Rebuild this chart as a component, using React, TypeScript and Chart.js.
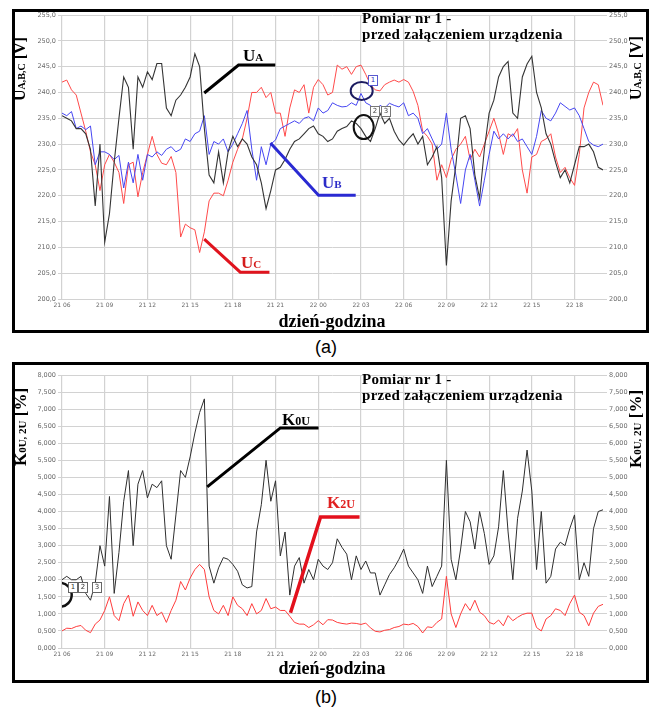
import React, { useEffect, useRef } from 'react';
import { Chart, registerables } from 'chart.js';

Chart.register(...registerables);

// ---------- data ----------
// x-axis tick labels (day hour), one every 3 hours starting at 21 06:00
const xTickLabels = ['21 06', '21 09', '21 12', '21 15', '21 18', '21 21', '22 00', '22 03', '22 06', '22 09', '22 12', '22 15', '22 18'];
// samples every 20 minutes, starting at 21 06:00 (x value = hours since start)
const SAMPLE_STEP_H = 1 / 3;

// Panel (a) — phase voltages [V]
const uA = [
  235.5, 235, 234.5, 233, 233, 232, 229, 218, 230, 211,
  216.5, 226.5, 235, 243, 241, 229, 243, 241, 244, 242.5,
  245.6, 245.6, 237, 235.5, 238.5, 239.5, 241, 243, 247.5, 245,
  233, 224, 222.5, 228.5, 222.5, 228.5, 231.5, 229.5, 231, 230,
  227.5, 226, 222.5, 217.5, 221, 225, 225.5, 227, 229, 230.5,
  231, 232, 233, 233.5, 232, 231.5, 230.5, 231, 232.5, 233,
  233.4, 234.5, 234, 233, 231.5, 230.5, 233, 236, 234, 235,
  232.5, 230.8, 229.8, 231, 232, 230, 231.5, 226, 227.5, 229.5,
  223.5, 206.5, 219, 226, 235, 235.5, 233, 224, 219.5, 229,
  236, 238.5, 243, 245, 246, 236, 235, 243, 245.5, 247,
  240, 237, 232, 230, 226.5, 223.5, 225, 222.5, 226, 229.5,
  229.5, 230, 228.5, 225.5, 225,
];
const uB = [
  236, 235.5, 236.3, 233, 233.5, 232.8, 233.5, 226, 228.5, 228.5,
  228, 227, 227.8, 221.5, 226.5, 222.5, 228, 223, 228, 227.5,
  228.5, 227.8, 229, 229.5, 228.5, 229, 231, 230.5, 232, 232.5,
  235.5, 228, 230.5, 230, 231, 228.5, 230, 232, 234, 236.5,
  229, 223, 229.5, 226, 230, 230.8, 233, 233.5, 234, 234.5,
  234, 235, 235.3, 234.5, 237, 236, 236.5, 238, 237.5, 237.2,
  237.3, 238, 237.5, 239.8, 238, 237.5, 236.5, 237.5, 237, 237.9,
  237.5, 237.2, 238, 235.5, 236, 235, 232, 233, 231, 229,
  230, 236, 229, 224, 218.5, 225, 228, 223, 218, 223,
  228, 232.5, 231, 232, 231, 232, 230.5, 231, 229.5, 228,
  231.5, 236.5, 235, 234.5, 236, 238, 237.3, 236.6, 237, 235.5,
  233, 230.5, 229.8, 229.5, 230,
];
const uC = [
  242, 242.4, 240.5, 239.5, 236, 232.5, 228.5, 226, 221, 226,
  228, 226.5, 224.5, 218.5, 226, 226.5, 219.8, 224.5, 228, 231.5,
  228, 226.3, 226, 227.6, 224.5, 212, 214.5, 213.8, 213.4, 209,
  213, 219, 220.5, 220.5, 220, 223, 226.5, 229, 231, 235,
  240, 240, 241, 239, 240, 236, 236, 231.5, 237, 240.5,
  240, 241.5, 236, 241, 242.5, 241.5, 239.5, 240, 245.3, 244.5,
  245, 243.5, 245, 245.3, 243.5, 241.5, 240.5, 240.3, 241.5, 242,
  242.4, 242, 242.5, 242, 240.2, 237.5, 232.5, 231.5, 230, 223,
  226, 223.5, 227, 229, 230, 231.5, 227, 229, 227.5, 230,
  232.5, 235, 232, 228, 232, 231.5, 233, 225, 220.5, 227.5,
  228, 230.5, 231, 232, 227.5, 224.5, 225.5, 223.5, 222, 228,
  237, 240, 242, 241.5, 237.5,
];

// Panel (b) — voltage unbalance factors [%]
const k0U = [
  2.0, 2.1, 2.0, 2.0, 2.1, 1.6, 1.4, 1.9, 3.0, 2.4,
  4.44, 1.6, 2.8, 4.3, 5.2, 3.0, 4.8, 5.2, 4.4, 4.8,
  4.7, 4.9, 3.0, 2.6, 3.9, 5.2, 5.0, 5.6, 6.3, 6.9,
  7.3, 2.4, 1.9, 2.35, 2.65, 2.6, 2.45, 2.25, 1.85, 1.76,
  1.8, 3.4, 4.2, 5.5, 4.3, 4.9, 2.7, 3.4, 1.55, 2.4,
  2.65, 1.9, 2.3, 2.0, 2.6, 2.4, 2.3, 2.5, 3.2, 2.95,
  2.75, 2.0, 2.7, 2.3, 2.55, 2.2, 2.2, 1.55, 1.85, 2.15,
  2.35, 2.6, 2.9, 2.4, 2.2, 2.0, 1.6, 2.4, 1.8, 2.1,
  2.4, 5.5, 2.6, 2.0, 2.9, 4.0, 3.7, 2.9, 4.0, 3.35,
  2.45, 2.7, 3.55, 5.2, 3.4, 2.0, 3.8, 4.6, 5.8, 4.6,
  2.3, 4.0, 1.9, 2.1, 2.9, 3.1, 3.0, 3.5, 3.9, 2.0,
  2.5, 2.1, 3.5, 4.0, 4.05,
];
const k2U = [
  0.5, 0.58, 0.57, 0.63, 0.66, 0.52, 0.45, 0.7, 0.82, 1.1,
  1.5, 0.95, 0.8, 1.3, 1.55, 0.93, 1.35, 1.1, 0.95, 1.25,
  0.95, 1.05, 0.75, 1.1, 1.4, 1.95, 1.7, 2.05, 2.3, 2.45,
  2.3, 1.5, 1.1, 1.0, 1.25, 0.95, 1.5, 1.25, 1.15, 0.95,
  1.3, 1.0, 1.1, 1.45, 1.15, 1.2, 1.1, 1.1, 0.93, 0.75,
  0.7, 0.7, 0.6, 0.68, 0.8, 0.68, 0.83, 0.82, 0.75, 0.72,
  0.7, 0.73, 0.72, 0.69, 0.73, 0.59, 0.49, 0.47, 0.52, 0.54,
  0.6, 0.63, 0.7, 0.68, 0.72, 0.63, 0.44, 0.62, 0.6, 0.75,
  0.85, 2.1, 1.0, 0.6, 1.0, 1.3, 1.1, 1.4, 1.05, 0.95,
  0.75, 0.7, 0.82, 0.65, 0.95, 0.8, 0.9, 0.98, 1.02, 1.02,
  0.6, 0.5, 0.85, 0.95, 1.15, 1.1, 0.95, 1.3, 1.55, 1.05,
  0.95, 0.65, 1.02, 1.22, 1.28,
];

const uAxis = { min: 200, max: 255, step: 5, decimals: 1 };
const kAxis = { min: 0, max: 8, step: 0.5, decimals: 3 };

// ---------- styling ----------
const SERIF = '"Liberation Serif", "Times New Roman", serif';
const SANS = '"Liberation Sans", Arial, sans-serif';
const TICK_FONT = 'DejaVu Sans';
const GRID = '#d2d2d2';

type Pt = [number, number];
interface Callout { pts: Pt[]; color: string; width: number }
interface Ring { at: Pt; rx: number; ry: number; color: string; width: number }
interface Series { name: string; values: number[]; color: string; width: number }
interface Frame { x: number; y: number; w: number; h: number; left: number; right: number; top: number; bottom: number }

function makeCalloutPlugin(callouts: Callout[], rings: Ring[]) {
  return {
    id: 'callouts',
    afterDatasetsDraw(chart: any) {
      const { ctx, chartArea, scales } = chart;
      const xs = scales.x;
      const ys = scales.y;
      ctx.save();
      ctx.beginPath();
      ctx.rect(chartArea.left, chartArea.top, chartArea.right - chartArea.left, chartArea.bottom - chartArea.top);
      ctx.clip();
      ctx.lineJoin = 'miter';
      ctx.lineCap = 'butt';
      for (const c of callouts) {
        ctx.beginPath();
        c.pts.forEach(([t, v], i) => {
          const px = xs.getPixelForValue(t);
          const py = ys.getPixelForValue(v);
          if (i === 0) ctx.moveTo(px, py);
          else ctx.lineTo(px, py);
        });
        ctx.strokeStyle = c.color;
        ctx.lineWidth = c.width;
        ctx.stroke();
      }
      for (const r of rings) {
        ctx.beginPath();
        ctx.ellipse(xs.getPixelForValue(r.at[0]), ys.getPixelForValue(r.at[1]), r.rx, r.ry, 0, 0, Math.PI * 2);
        ctx.strokeStyle = r.color;
        ctx.lineWidth = r.width;
        ctx.stroke();
      }
      ctx.restore();
    },
  };
}

function PanelChart(props: {
  frame: Frame;
  series: Series[];
  axis: { min: number; max: number; step: number; decimals: number };
  callouts: Callout[];
  rings: Ring[];
}) {
  const ref = useRef<HTMLCanvasElement>(null);
  const { frame, series, axis, callouts, rings } = props;
  useEffect(() => {
    const fmt = (v: any) => Number(v).toFixed(axis.decimals).replace('.', ',');
    const tickFont = { family: TICK_FONT, size: 6.5 };
    const xMax = (series[0].values.length - 1) * SAMPLE_STEP_H;
    const yScale = (pos: 'left' | 'right', width: number, onChart: boolean) => ({
      type: 'linear',
      position: pos,
      min: axis.min,
      max: axis.max,
      afterFit: (s: any) => { s.width = width; },
      ticks: {
        stepSize: axis.step,
        maxTicksLimit: 100,
        padding: 2,
        color: '#6a6a6a',
        font: tickFont,
        callback: fmt,
      },
      grid: { color: GRID, lineWidth: 1, tickLength: 4, drawOnChartArea: onChart },
      border: { display: false },
    });
    const chart = new Chart(ref.current as HTMLCanvasElement, {
      type: 'line',
      data: {
        datasets: series.map((s) => ({
          label: s.name,
          data: s.values.map((v, i) => ({ x: i * SAMPLE_STEP_H, y: v })),
          borderColor: s.color,
          borderWidth: s.width,
          pointRadius: 0,
          tension: 0,
          fill: false,
          yAxisID: 'y',
        })),
      },
      options: {
        responsive: false,
        animation: false,
        devicePixelRatio: 1,
        layout: { padding: { top: frame.top, left: 0, right: 0, bottom: 0 } },
        plugins: { legend: { display: false }, tooltip: { enabled: false } },
        scales: {
          x: {
            type: 'linear',
            min: 0,
            max: xMax,
            afterFit: (s: any) => { s.height = frame.h - frame.bottom; },
            ticks: {
              stepSize: 3,
              maxTicksLimit: 100,
              includeBounds: false,
              autoSkip: false,
              maxRotation: 0,
              padding: 3,
              color: '#6a6a6a',
              font: { family: TICK_FONT, size: 6 },
              callback: (v: any) => xTickLabels[Math.round(Number(v) / 3)] ?? '',
            },
            grid: { color: GRID, lineWidth: 1.2, tickLength: 0 },
            border: { display: false },
          },
          y: yScale('left', frame.left, true),
          y2: yScale('right', frame.w - frame.right, false),
        },
      } as any,
      plugins: [makeCalloutPlugin(callouts, rings)],
    });
    return () => chart.destroy();
  }, []);
  return (
    <canvas
      ref={ref}
      width={frame.w}
      height={frame.h}
      style={{ position: 'absolute', left: frame.x, top: frame.y, width: frame.w, height: frame.h }}
    />
  );
}

// ---------- text helpers ----------
function Txt(props: { x: number; base: number; size: number; children: any; color?: string; center?: boolean; family?: string; weight?: number; spacing?: number }) {
  const { x, base, size, children, color = '#000', center = false, family = SERIF, weight = 700, spacing = 0 } = props;
  const asc = family === SANS ? 0.8465 : 0.8375;
  return (
    <div
      style={{
        position: 'absolute',
        left: x,
        top: base - asc * size,
        fontFamily: family,
        fontSize: size,
        lineHeight: `${size}px`,
        fontWeight: weight,
        color,
        whiteSpace: 'nowrap',
        letterSpacing: spacing,
        transform: center ? 'translateX(-50%)' : undefined,
      }}
    >
      {children}
    </div>
  );
}

function VTitle(props: { cx: number; cy: number; main: string; sub: string; unit: string; size: number; subSize: number }) {
  const { cx, cy, main, sub, unit, size, subSize } = props;
  return (
    <div
      style={{
        position: 'absolute',
        left: cx,
        top: cy,
        transform: 'translate(-50%, -50%) rotate(-90deg)',
        fontFamily: SERIF,
        fontWeight: 700,
        fontSize: size,
        lineHeight: `${size}px`,
        whiteSpace: 'nowrap',
        color: '#000',
      }}
    >
      {main}
      <span style={{ fontSize: subSize }}>{sub}</span>
      {' ' + unit}
    </div>
  );
}

function NumBox(props: { x: number; y: number; label: string; border: string; color: string }) {
  return (
    <div
      style={{
        position: 'absolute',
        left: props.x,
        top: props.y,
        width: 10,
        height: 11,
        boxSizing: 'border-box',
        border: `1px solid ${props.border}`,
        background: '#fff',
        fontFamily: TICK_FONT,
        fontSize: 7,
        lineHeight: '9px',
        textAlign: 'center',
        color: props.color,
      }}
    >
      {props.label}
    </div>
  );
}

function SubLabel(props: { x: number; base: number; main: string; sub: string; color: string; size: number; subSize: number }) {
  return (
    <Txt x={props.x} base={props.base} size={props.size} color={props.color}>
      {props.main}
      <span style={{ fontSize: props.subSize }}>{props.sub}</span>
    </Txt>
  );
}

// ---------- panels ----------
const frameA: Frame = { x: 12, y: 9, w: 637, h: 324, left: 50, right: 591, top: 6, bottom: 290 };
const frameB: Frame = { x: 12, y: 362, w: 637, h: 321, left: 50, right: 591, top: 13, bottom: 286 };

const seriesA: Series[] = [
  { name: 'UA', values: uA, color: '#343434', width: 1.1 },
  { name: 'UB', values: uB, color: '#4646f2', width: 1 },
  { name: 'UC', values: uC, color: '#ff4a4a', width: 1 },
];
const seriesB: Series[] = [
  { name: 'K0U', values: k0U, color: '#2e2e2e', width: 1 },
  { name: 'K2U', values: k2U, color: '#ff3c3c', width: 1 },
];

// callout leader lines, in data coordinates [hours since 21 06, value]
const calloutsA: Callout[] = [
  { pts: [[9.99, 239.9], [12.4, 245.3], [14.98, 245.3]], color: '#000', width: 3 },
  { pts: [[14.64, 230.2], [18.02, 220.1], [20.63, 220.1]], color: '#2a2ad2', width: 3 },
  { pts: [[9.99, 211.6], [12.52, 205.2], [14.57, 205.2]], color: '#e0141e', width: 3 },
];
const ringsA: Ring[] = [
  { at: [21.05, 240.3], rx: 11, ry: 9, color: '#1c1c60', width: 2 },
  { at: [21.19, 233.3], rx: 10, ry: 12, color: '#111', width: 2 },
];
const calloutsB: Callout[] = [
  { pts: [[10.2, 4.72], [15.34, 6.45], [18.02, 6.45]], color: '#000', width: 3 },
  { pts: [[16.05, 1.03], [18.16, 3.84], [20.9, 3.84]], color: '#e3101c', width: 3.5 },
];
const ringsB: Ring[] = [{ at: [-0.16, 1.56], rx: 12, ry: 12, color: '#111', width: 2.5 }];

export default function App() {
  return (
    <div style={{ position: 'absolute', left: 0, top: 0, width: 652, height: 711, background: '#fff', overflow: 'hidden' }}>
      {/* ---- panel (a) ---- */}
      <PanelChart frame={frameA} series={seriesA} axis={uAxis} callouts={calloutsA} rings={ringsA} />
      <div style={{ position: 'absolute', left: 12, top: 9, width: 637, height: 324, border: '3px solid #000', boxSizing: 'border-box' }} />
      <VTitle cx={21} cy={69} main="U" sub="A,B,C" unit="[V]" size={16} subSize={10} />
      <VTitle cx={637} cy={68} main="U" sub="A,B,C" unit="[V]" size={16} subSize={10} />
      <Txt x={362} base={24} size={15} spacing={0.3}>Pomiar nr 1 -</Txt>
      <Txt x={362} base={40} size={15} spacing={0.3}>przed załączeniem urządzenia</Txt>
      <SubLabel x={243} base={61} main="U" sub="A" color="#000" size={17} subSize={11} />
      <SubLabel x={322} base={188} main="U" sub="B" color="#2c2cc8" size={17} subSize={11} />
      <SubLabel x={241} base={268} main="U" sub="C" color="#d41c1c" size={17} subSize={11} />
      <NumBox x={368} y={75} label="1" border="#5a5ad0" color="#3030c0" />
      <NumBox x={370} y={106} label="2" border="#777" color="#444" />
      <NumBox x={381} y={106} label="3" border="#777" color="#444" />
      <Txt x={332} base={327} size={18} center>dzień-godzina</Txt>
      <Txt x={326} base={353} size={18} center family={SANS} weight={400}>(a)</Txt>

      {/* ---- panel (b) ---- */}
      <PanelChart frame={frameB} series={seriesB} axis={kAxis} callouts={calloutsB} rings={ringsB} />
      <div style={{ position: 'absolute', left: 12, top: 362, width: 637, height: 321, border: '3px solid #000', boxSizing: 'border-box' }} />
      <VTitle cx={21} cy={427} main="K" sub="0U, 2U" unit="[%]" size={17} subSize={11} />
      <VTitle cx={636} cy={429} main="K" sub="0U, 2U" unit="[%]" size={17} subSize={11} />
      <Txt x={362} base={385} size={15} spacing={0.3}>Pomiar nr 1 -</Txt>
      <Txt x={362} base={401} size={15} spacing={0.3}>przed załączeniem urządzenia</Txt>
      <SubLabel x={282} base={425} main="K" sub="0U" color="#000" size={17} subSize={12} />
      <SubLabel x={327} base={508} main="K" sub="2U" color="#e02020" size={17} subSize={12} />
      <NumBox x={68} y={582} label="1" border="#666" color="#333" />
      <NumBox x={78} y={582} label="2" border="#666" color="#333" />
      <NumBox x={92} y={582} label="3" border="#666" color="#333" />
      <Txt x={332} base={674} size={18} center>dzień-godzina</Txt>
      <Txt x={326} base={703} size={18} center family={SANS} weight={400}>(b)</Txt>
    </div>
  );
}
